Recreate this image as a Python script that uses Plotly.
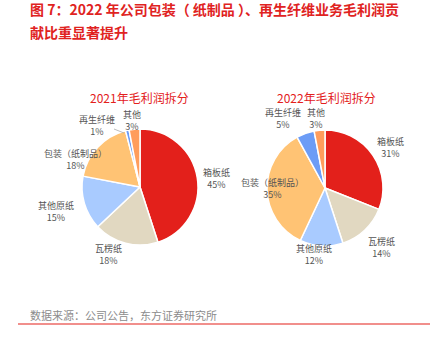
import plotly.graph_objects as go

# Gross-profit breakdown by business segment
segments = ["箱板纸", "瓦楞纸", "其他原纸", "包装（纸制品）", "再生纤维", "其他"]
share_2021 = [45, 18, 15, 18, 1, 3]
share_2022 = [31, 14, 12, 35, 5, 3]
slice_colors = ["#E3201B", "#E1D8C1", "#A9CBFF", "#FFC374", "#6C9CF6", "#FF9D5C"]

W, H = 435, 345
FONT = "Noto Sans CJK SC, Noto Sans, sans-serif"


def px_x(x):
    return x / W


def px_y(y):
    return 1 - y / H


def pie_domain(cx, cy, r):
    return dict(x=[px_x(cx - r), px_x(cx + r)], y=[px_y(cy + r), px_y(cy - r)])


fig = go.Figure()
for values, (cx, cy) in [(share_2021, (140, 187)), (share_2022, (325, 188))]:
    fig.add_trace(go.Pie(
        labels=segments,
        values=values,
        sort=False,
        direction="clockwise",
        rotation=0,
        textinfo="none",
        hoverinfo="label+percent",
        marker=dict(colors=slice_colors, line=dict(color="white", width=1.5)),
        domain=pie_domain(cx, cy, 58),
        showlegend=False,
    ))

# Slice label centres (two-line label: name above value)
label_pos_2021 = [(216, 178), (108, 254), (56, 211), (75, 159), (97, 125), (132, 120)]
label_pos_2022 = [(390, 147), (381, 247), (314, 254), (272, 189), (283, 119), (316, 118)]

annotations = []


def add_text(text, x, y, size, color, anchor="center"):
    annotations.append(dict(
        x=px_x(x), y=px_y(y), xref="paper", yref="paper",
        text=text, showarrow=False, xanchor=anchor, yanchor="middle",
        align="center",
        font=dict(family=FONT, size=size, color=color),
    ))


for values, positions in [(share_2021, label_pos_2021), (share_2022, label_pos_2022)]:
    for name, v, (x, y) in zip(segments, values, positions):
        add_text(f"{name}<br>{v}%", x, y, 9, "#555555")

# Chart sub-titles
add_text("2021年毛利润拆分", 139, 97, 12, "#E3201B")
add_text("2022年毛利润拆分", 326, 97, 12, "#E3201B")

# Figure heading
add_text("<b>图 7：2022 年公司包装（ 纸制品 ）、再生纤维业务毛利润贡</b>", 28, 9, 14, "#E0231F", "left")
add_text("<b>献比重显著提升</b>", 28, 32, 14, "#E0231F", "left")

# Source note
add_text("数据来源：公司公告，东方证券研究所", 28, 315, 11, "#8C8C8C", "left")

shapes = [
    # red rule under the source note
    dict(type="line", xref="paper", yref="paper",
         x0=px_x(18), x1=px_x(430), y0=px_y(324), y1=px_y(324),
         line=dict(color="#E3201B", width=1.2)),
    # leader line for the small 再生纤维 slice (2021)
    dict(type="line", xref="paper", yref="paper",
         x0=px_x(114), x1=px_x(124), y0=px_y(129), y1=px_y(133),
         line=dict(color="#AAAAAA", width=0.8)),
]

fig.update_layout(
    width=W, height=H,
    margin=dict(l=0, r=0, t=0, b=0),
    paper_bgcolor="white",
    plot_bgcolor="white",
    annotations=annotations,
    shapes=shapes,
)

fig.write_html("out.html")
